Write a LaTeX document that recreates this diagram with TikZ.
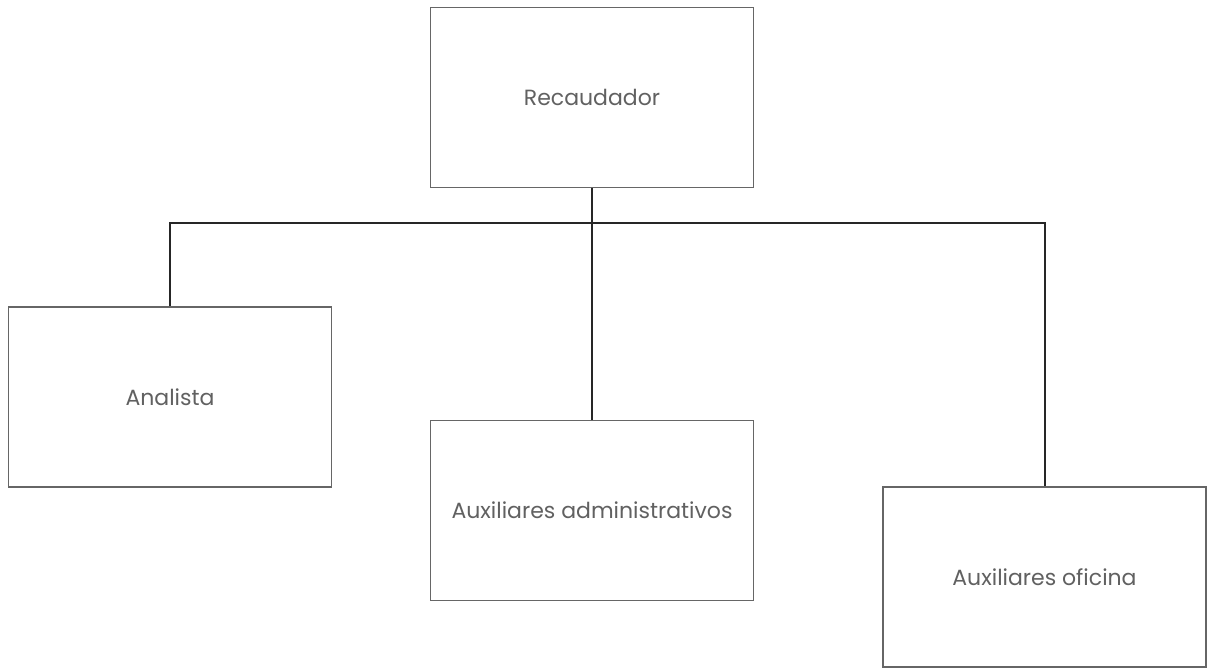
\documentclass[tikz,border=0pt]{standalone}
\usepackage{fontspec}
\setmainfont{Poppins}
\begin{document}
\begin{tikzpicture}[x=1pt,y=-1pt,
  box/.style={draw=black!60,line width=1.5pt,fill=white,minimum width=323pt,minimum height=180pt,inner sep=0pt,font=\fontsize{22}{26}\selectfont,text=black!62},
  link/.style={draw=black!85,line width=2pt}]
\useasboundingbox (0,0) rectangle (1209,669);
\node[box] (rec) at (592,97.5) {Recaudador};
\node[box] (ana) at (170,397) {Analista};
\node[box] (adm) at (592,510.5) {Auxiliares administrativos};
\node[box] (ofi) at (1044.5,577) {Auxiliares oficina};
\coordinate (bus) at (592,223);
\draw[link] (rec.south) -- (adm.north);
\draw[link] (ana.north) |- (bus) -| (ofi.north);
\end{tikzpicture}
\end{document}
